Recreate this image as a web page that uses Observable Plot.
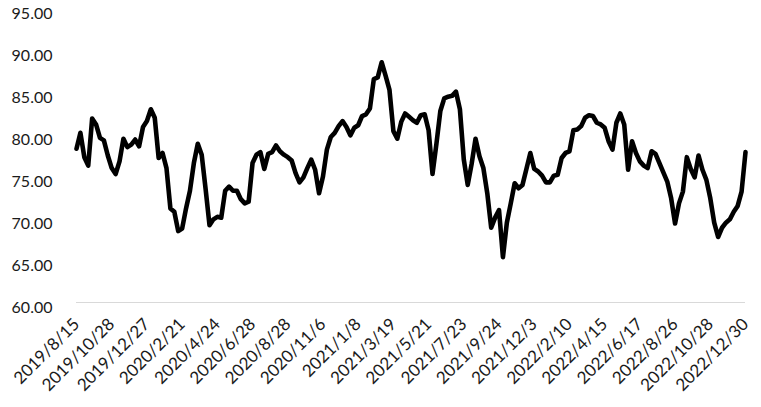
<!DOCTYPE html>
<html>
<head>
<meta charset="utf-8">
<script src="https://cdn.jsdelivr.net/npm/d3@7"></script>
<script src="https://cdn.jsdelivr.net/npm/@observablehq/plot@0.6"></script>
<style>
  html, body { margin: 0; padding: 0; background: #fff; }
  #chart svg { display: block; }
</style>
</head>
<body>
<div id="chart"></div>
<script>
// Weekly values (172 points), index 0 = 2019/8/15, index 171 = 2022/12/30
const values = [
  78.3, 80.2, 77.3, 76.3, 81.9, 81.2, 79.6, 79.3, 77.5, 76.0,
  75.3, 76.8, 79.5, 78.5, 78.8, 79.4, 78.6, 80.9, 81.6, 83.0,
  82.0, 77.2, 77.8, 76.0, 71.2, 70.8, 68.5, 68.8, 71.2, 73.3,
  76.6, 78.9, 77.6, 73.5, 69.2, 69.9, 70.2, 70.1, 73.3, 73.8,
  73.3, 73.3, 72.3, 71.8, 72.0, 76.6, 77.6, 77.9, 75.9, 77.7,
  77.9, 78.7, 78.0, 77.6, 77.3, 76.9, 75.4, 74.3, 74.9, 76.0,
  77.0, 75.8, 73.0, 75.0, 78.2, 79.7, 80.2, 81.0, 81.6, 80.9,
  79.9, 80.8, 81.1, 82.2, 82.4, 83.1, 86.6, 86.8, 88.6, 87.0,
  85.3, 80.4, 79.5, 81.5, 82.5, 82.1, 81.7, 81.4, 82.3, 82.4,
  80.5, 75.3, 78.9, 82.8, 84.3, 84.5, 84.6, 85.1, 83.0, 77.0,
  74.0, 76.5, 79.5, 77.4, 76.0, 73.0, 68.9, 70.1, 71.0, 65.4,
  69.5, 71.8, 74.2, 73.6, 74.0, 75.9, 77.8, 75.9, 75.6, 75.1,
  74.3, 74.3, 75.1, 75.2, 77.2, 77.8, 78.0, 80.5, 80.6, 81.0,
  82.0, 82.3, 82.2, 81.4, 81.2, 80.8, 79.2, 78.2, 81.4, 82.5,
  81.2, 75.8, 79.2, 77.8, 76.8, 76.3, 76.0, 78.0, 77.7, 76.6,
  75.5, 74.4, 72.4, 69.4, 71.8, 73.2, 77.3, 75.9, 74.9, 77.5,
  75.8, 74.6, 72.4, 69.5, 67.8, 68.9, 69.5, 69.9, 70.8, 71.5,
  73.2, 77.9
];

// Category-axis labels, shown every 9th week
const tickLabels = [
  "2019/8/15", "2019/10/28", "2019/12/27", "2020/2/21", "2020/4/24",
  "2020/6/28", "2020/8/28", "2020/11/6", "2021/1/8", "2021/3/19",
  "2021/5/21", "2021/7/23", "2021/9/24", "2021/12/3", "2022/2/10",
  "2022/4/15", "2022/6/17", "2022/8/26", "2022/10/28", "2022/12/30"
];
const labelInterval = 9;
const yTicks = [60, 65, 70, 75, 80, 85, 90, 95];

const data = values.map((v, i) => ({i, v}));
const tickIdx = tickLabels.map((_, k) => k * labelInterval);
const labelOf = new Map(tickIdx.map((t, k) => [t, tickLabels[k]]));

const chart = Plot.plot({
  width: 761,
  height: 407,
  marginLeft: 76,
  marginRight: 16,
  marginTop: 8,
  marginBottom: 105,
  style: {fontFamily: "Lato, sans-serif", fontSize: "16px", color: "#1a1a1a", background: "#fff"},
  x: {domain: [0, values.length - 1], label: null},
  y: {domain: [60, 95], label: null},
  marks: [
    Plot.ruleY([60], {stroke: "#d9d9d9", strokeWidth: 1.2}),
    Plot.axisY(yTicks, {tickSize: 0, tickPadding: 24, dy: 5, tickFormat: d => d.toFixed(2), fontSize: 16}),
    Plot.axisX(tickIdx, {tickSize: 0, tickPadding: 19, tickRotate: -45, tickFormat: d => labelOf.get(d), fontSize: 17}),
    Plot.line(data, {x: "i", y: "v", stroke: "#000", strokeWidth: 4.6, strokeLinejoin: "round"})
  ]
});
document.getElementById("chart").appendChild(chart);
</script>
</body>
</html>
